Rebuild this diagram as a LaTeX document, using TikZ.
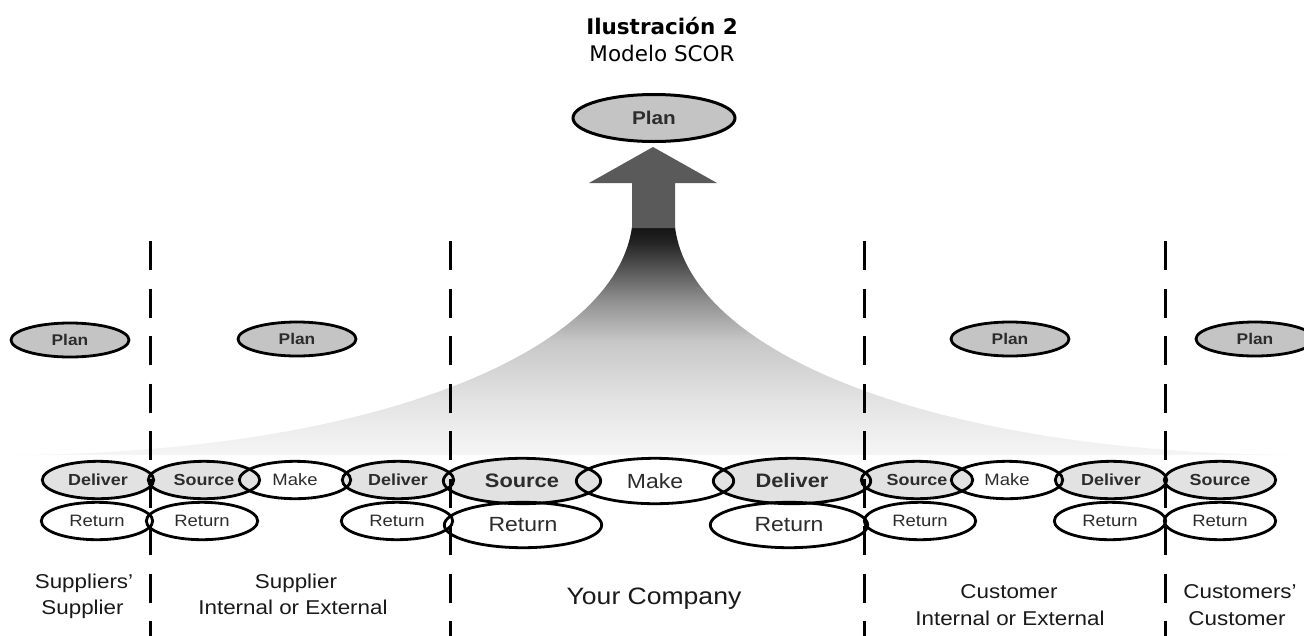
\documentclass[tikz,border=0pt]{standalone}
\usepackage{fontspec}
\setmainfont{Liberation Sans}[FakeStretch=1.12]
\newfontfamily\titlefont{DejaVu Sans}
\usetikzlibrary{shapes.geometric}
\definecolor{lgray}{HTML}{E2E2E2}
\definecolor{pgray}{HTML}{C4C4C4}
\definecolor{agray}{HTML}{5A5A5A}
\definecolor{txt}{HTML}{2C2C2C}
\newcommand\myfs[1]{\fontsize{#1}{#1}\selectfont}
\pgfdeclareverticalshading{funnel}{100bp}{color(0bp)=(black!4); color(25bp)=(black!4); color(29bp)=(black!6); color(37bp)=(black!11); color(50bp)=(black!22); color(59bp)=(black!44); color(66bp)=(black!67); color(72bp)=(black!87); color(75bp)=(black!92); color(100bp)=(black!92)}
\tikzset{
  baseell/.style={ellipse, inner sep=0pt, outer sep=0pt, text=txt},
  smg/.style={baseell, minimum width=111.4pt, minimum height=37.4pt, fill=lgray, font=\bfseries\myfs{16}},
  smw/.style={baseell, minimum width=111.4pt, minimum height=37.4pt, fill=white, font=\myfs{16.5}},
  lgg/.style={baseell, minimum width=157.4pt, minimum height=45.4pt, fill=lgray, font=\bfseries\myfs{19.5}},
  lgw/.style={baseell, minimum width=157.4pt, minimum height=45.4pt, fill=white, font=\myfs{20.5}},
  ol/.style={draw=black, line width=2.8pt},
  plansm/.style={ellipse, draw=black, line width=2.8pt, fill=pgray, inner sep=0pt, minimum width=118pt, minimum height=34pt, font=\bfseries\myfs{15.5}, text=txt},
  planbig/.style={ellipse, draw=black, line width=3pt, fill=pgray, inner sep=0pt, minimum width=162pt, minimum height=47pt, font=\bfseries\myfs{18.5}, text=txt},
  vdash/.style={line width=3pt, dash pattern=on 29pt off 18.5pt},
  lab/.style={anchor=base, font=\myfs{20}, text=black!90, inner sep=0pt},
}
\begin{document}
\begin{tikzpicture}[x=1pt,y=-1pt]
\useasboundingbox (0,0) rectangle (1304,635);
% title
\node[anchor=base, font=\titlefont\bfseries\myfs{21.5}, inner sep=0pt] (t1) at (662,34.5) {Ilustración 2};
\node[anchor=base, font=\titlefont\myfs{21.5}, inner sep=0pt] (t2) at (662,61.5) {Modelo SCOR};
% funnel and arrow
\shade[shading=funnel] (632,227) .. controls (615,350) and (380,452) .. (15,455) -- (1293,455) .. controls (925,452) and (690,350) .. (675,227) -- cycle;
\fill[agray] (632,228) -- (632,183) -- (589,183) -- (653,147) -- (717,183) -- (675,183) -- (675,228) -- cycle;
\node[planbig] (pb) at (654,118) {Plan};
% plan ellipses
\node[plansm] (p1) at (70,340) {Plan};
\node[plansm] (p2) at (297,339) {Plan};
\node[plansm] (p3) at (1010,339) {Plan};
\node[plansm] (p4) at (1255,339) {Plan};
% pass 1: fills and texts
\node[smw] (r1) at (97,521) {Return};
\node[smw] (r2) at (202,521) {Return};
\node[smw] (r3) at (397,521) {Return};
\node[lgw] (R4) at (523,525) {Return};
\node[lgw] (R5) at (789,525) {Return};
\node[smw] (r6) at (920,521) {Return};
\node[smw] (r7) at (1110,521) {Return};
\node[smw] (r8) at (1220,521) {Return};
\node[smw] (m1) at (295,480) {Make};
\node[lgw] (M2) at (655,481) {Make};
\node[smw] (m3) at (1007,480) {Make};
\node[smg] (d1) at (98,480) {Deliver};
\node[smg] (s1) at (204,480) {Source};
\node[smg] (d2) at (398,480) {Deliver};
\node[lgg] (S2) at (522,481) {Source};
\node[lgg] (D2) at (792,481) {Deliver};
\node[smg] (s3) at (917,480) {Source};
\node[smg] (d3) at (1111,480) {Deliver};
\node[smg] (s4) at (1220,480) {Source};
% pass 2: outlines
\foreach \n in {r1,r2,r3,r6,r7,r8,m1,m3,d1,s1,d2,s3,d3,s4}
  \draw[ol] (\n.center) ellipse [x radius=55.7, y radius=18.7];
\foreach \n in {R4,R5,M2,S2,D2}
  \draw[ol] (\n.center) ellipse [x radius=78.7, y radius=22.7];
% dashed separators
\coordinate (v1a) at (150,241); \coordinate (v1b) at (150,640);
\coordinate (v2a) at (450,241); \coordinate (v2b) at (450,640);
\coordinate (v3a) at (864,241); \coordinate (v3b) at (864,640);
\coordinate (v4a) at (1165,241); \coordinate (v4b) at (1165,640);
\draw[vdash] (v1a) -- (v1b);
\draw[vdash] (v2a) -- (v2b);
\draw[vdash] (v3a) -- (v3b);
\draw[vdash] (v4a) -- (v4b);
% bottom labels
\node[lab] (l1a) at (84,588) {Suppliers’};
\node[lab] (l1b) at (82.5,614) {Supplier};
\node[lab] (l2a) at (296,588) {Supplier};
\node[lab] (l2b) at (293,614) {Internal or External};
\node[lab, font=\myfs{23.7}] (l3) at (654,604) {Your Company};
\node[lab] (l4a) at (1009,598) {Customer};
\node[lab] (l4b) at (1010,625) {Internal or External};
\node[lab] (l5a) at (1240,598) {Customers’};
\node[lab] (l5b) at (1237,625) {Customer};
\end{tikzpicture}
\end{document}
